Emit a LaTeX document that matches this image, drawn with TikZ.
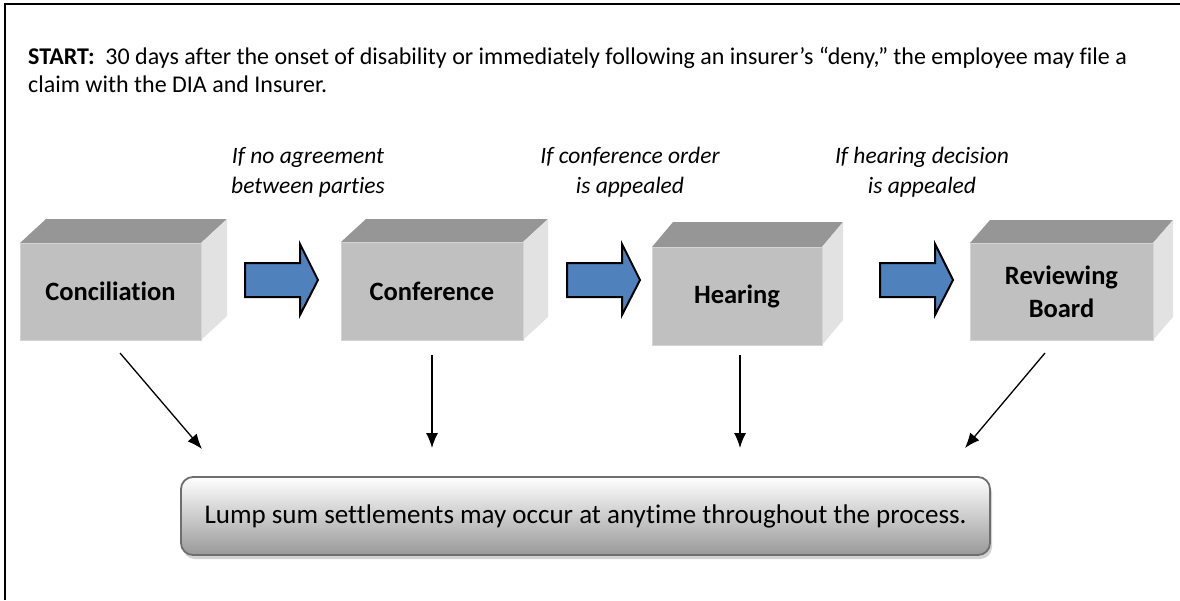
\documentclass[tikz,border=0pt]{standalone}
\usepackage{fontspec}
\setmainfont{Carlito}[Ligatures=NoCommon]
\usetikzlibrary{calc,arrows.meta,shadows}
\definecolor{frontc}{HTML}{C0C0C0}
\definecolor{topc}{HTML}{969696}
\definecolor{sidec}{HTML}{E2E2E2}
\definecolor{edgec}{HTML}{D4D4D4}
\definecolor{bluec}{HTML}{4F81BD}
\definecolor{lumpedge}{HTML}{6E6E6E}
\definecolor{lumpbot}{HTML}{999999}
\tikzset{
  frontbox/.style={fill=frontc, draw=edgec, line width=0.8pt, inner sep=0pt, align=center,
    font=\fontsize{26.5}{33}\selectfont\bfseries},
  toptext/.style={anchor=base west, inner sep=0pt, font=\fontsize{24}{28}\selectfont},
  cond/.style={inner sep=0pt, align=center, font=\fontsize{23.5}{30}\selectfont\itshape},
  downarrow/.style={line width=1.3pt, -{Latex[length=15pt,width=12pt]}},
  bluearrow/.style={fill=bluec, draw=black, line width=2pt, line join=miter},
  lumpbox/.style={rounded corners=12pt, draw=lumpedge, line width=1.8pt,
    top color=white, bottom color=lumpbot, minimum width=809pt, minimum height=78pt,
    font=\fontsize{27}{30}\selectfont,
    drop shadow={shadow xshift=2pt, shadow yshift=-4pt, opacity=0.35}}
}
% cube: name, x1, y1, x2, y2, dx, dy, text
\newcommand\mycube[8]{%
  \fill[topc] (#2,#3) -- ({#2+#6},{#3-#7}) -- ({#4+#6},{#3-#7}) -- (#4,#3) -- cycle;
  \fill[sidec] (#4,#3) -- ({#4+#6},{#3-#7}) -- ({#4+#6},{#5-#7}) -- (#4,#5) -- cycle;
  \node[frontbox, minimum width={(#4-#2)*1pt}, minimum height={(#5-#3)*1pt}]
    (#1) at ({(#2+#4)/2},{(#3+#5)/2}) {#8};
}
\newcommand\myblue[1]{%
  \draw[bluearrow] (#1,263) -- ({#1+55},263) -- ({#1+55},244) -- ({#1+73},280)
    -- ({#1+55},315) -- ({#1+55},297) -- (#1,297) -- cycle;
}
\begin{document}
\begin{tikzpicture}[x=1pt,y=-1pt]
\useasboundingbox (0,0) rectangle (1180,600);
\fill[white] (0,0) rectangle (1180,600);
% frame
\draw[line width=2.5pt] (5,600) -- (5,4) -- (1180,4);

% start text
\node[toptext] (start1) at (28,64) {\textbf{START:}\ \ 30 days after the onset of disability or immediately following an insurer’s “deny,” the employee may file a};
\node[toptext] (start2) at (28,92) {claim with the DIA and Insurer.};

% conditions
\node[cond] (c1) at (308,172) {If no agreement\\between parties};
\node[cond] (c2) at (630,172) {If conference order\\is appealed};
\node[cond] (c3) at (922,172) {If hearing decision\\is appealed};

% cubes
\mycube{conc}{20}{243}{201}{340}{26}{24}{Conciliation}
\mycube{conf}{341}{242}{523}{340}{25}{23}{Conference}
\mycube{hear}{652}{247}{822}{345}{21}{25}{Hearing}
\mycube{rev}{970}{243}{1153}{340}{20}{23}{Reviewing\\Board}

% blue arrows
\myblue{245}
\myblue{567}
\myblue{880}

% lump sum box
\node[lumpbox] (lump) at (585.5,516) {Lump sum settlements may occur at anytime throughout the process.};

% down arrows
\coordinate (s1) at (120,353); \coordinate (e1) at (202,449);
\coordinate (s2) at (432,355); \coordinate (e2) at (432,448);
\coordinate (s3) at (740,355); \coordinate (e3) at (740,448);
\coordinate (s4) at (1045,353); \coordinate (e4) at (965,448);
\draw[downarrow] (s1) -- (e1);
\draw[downarrow] (s2) -- (e2);
\draw[downarrow] (s3) -- (e3);
\draw[downarrow] (s4) -- (e4);
\end{tikzpicture}
\end{document}
